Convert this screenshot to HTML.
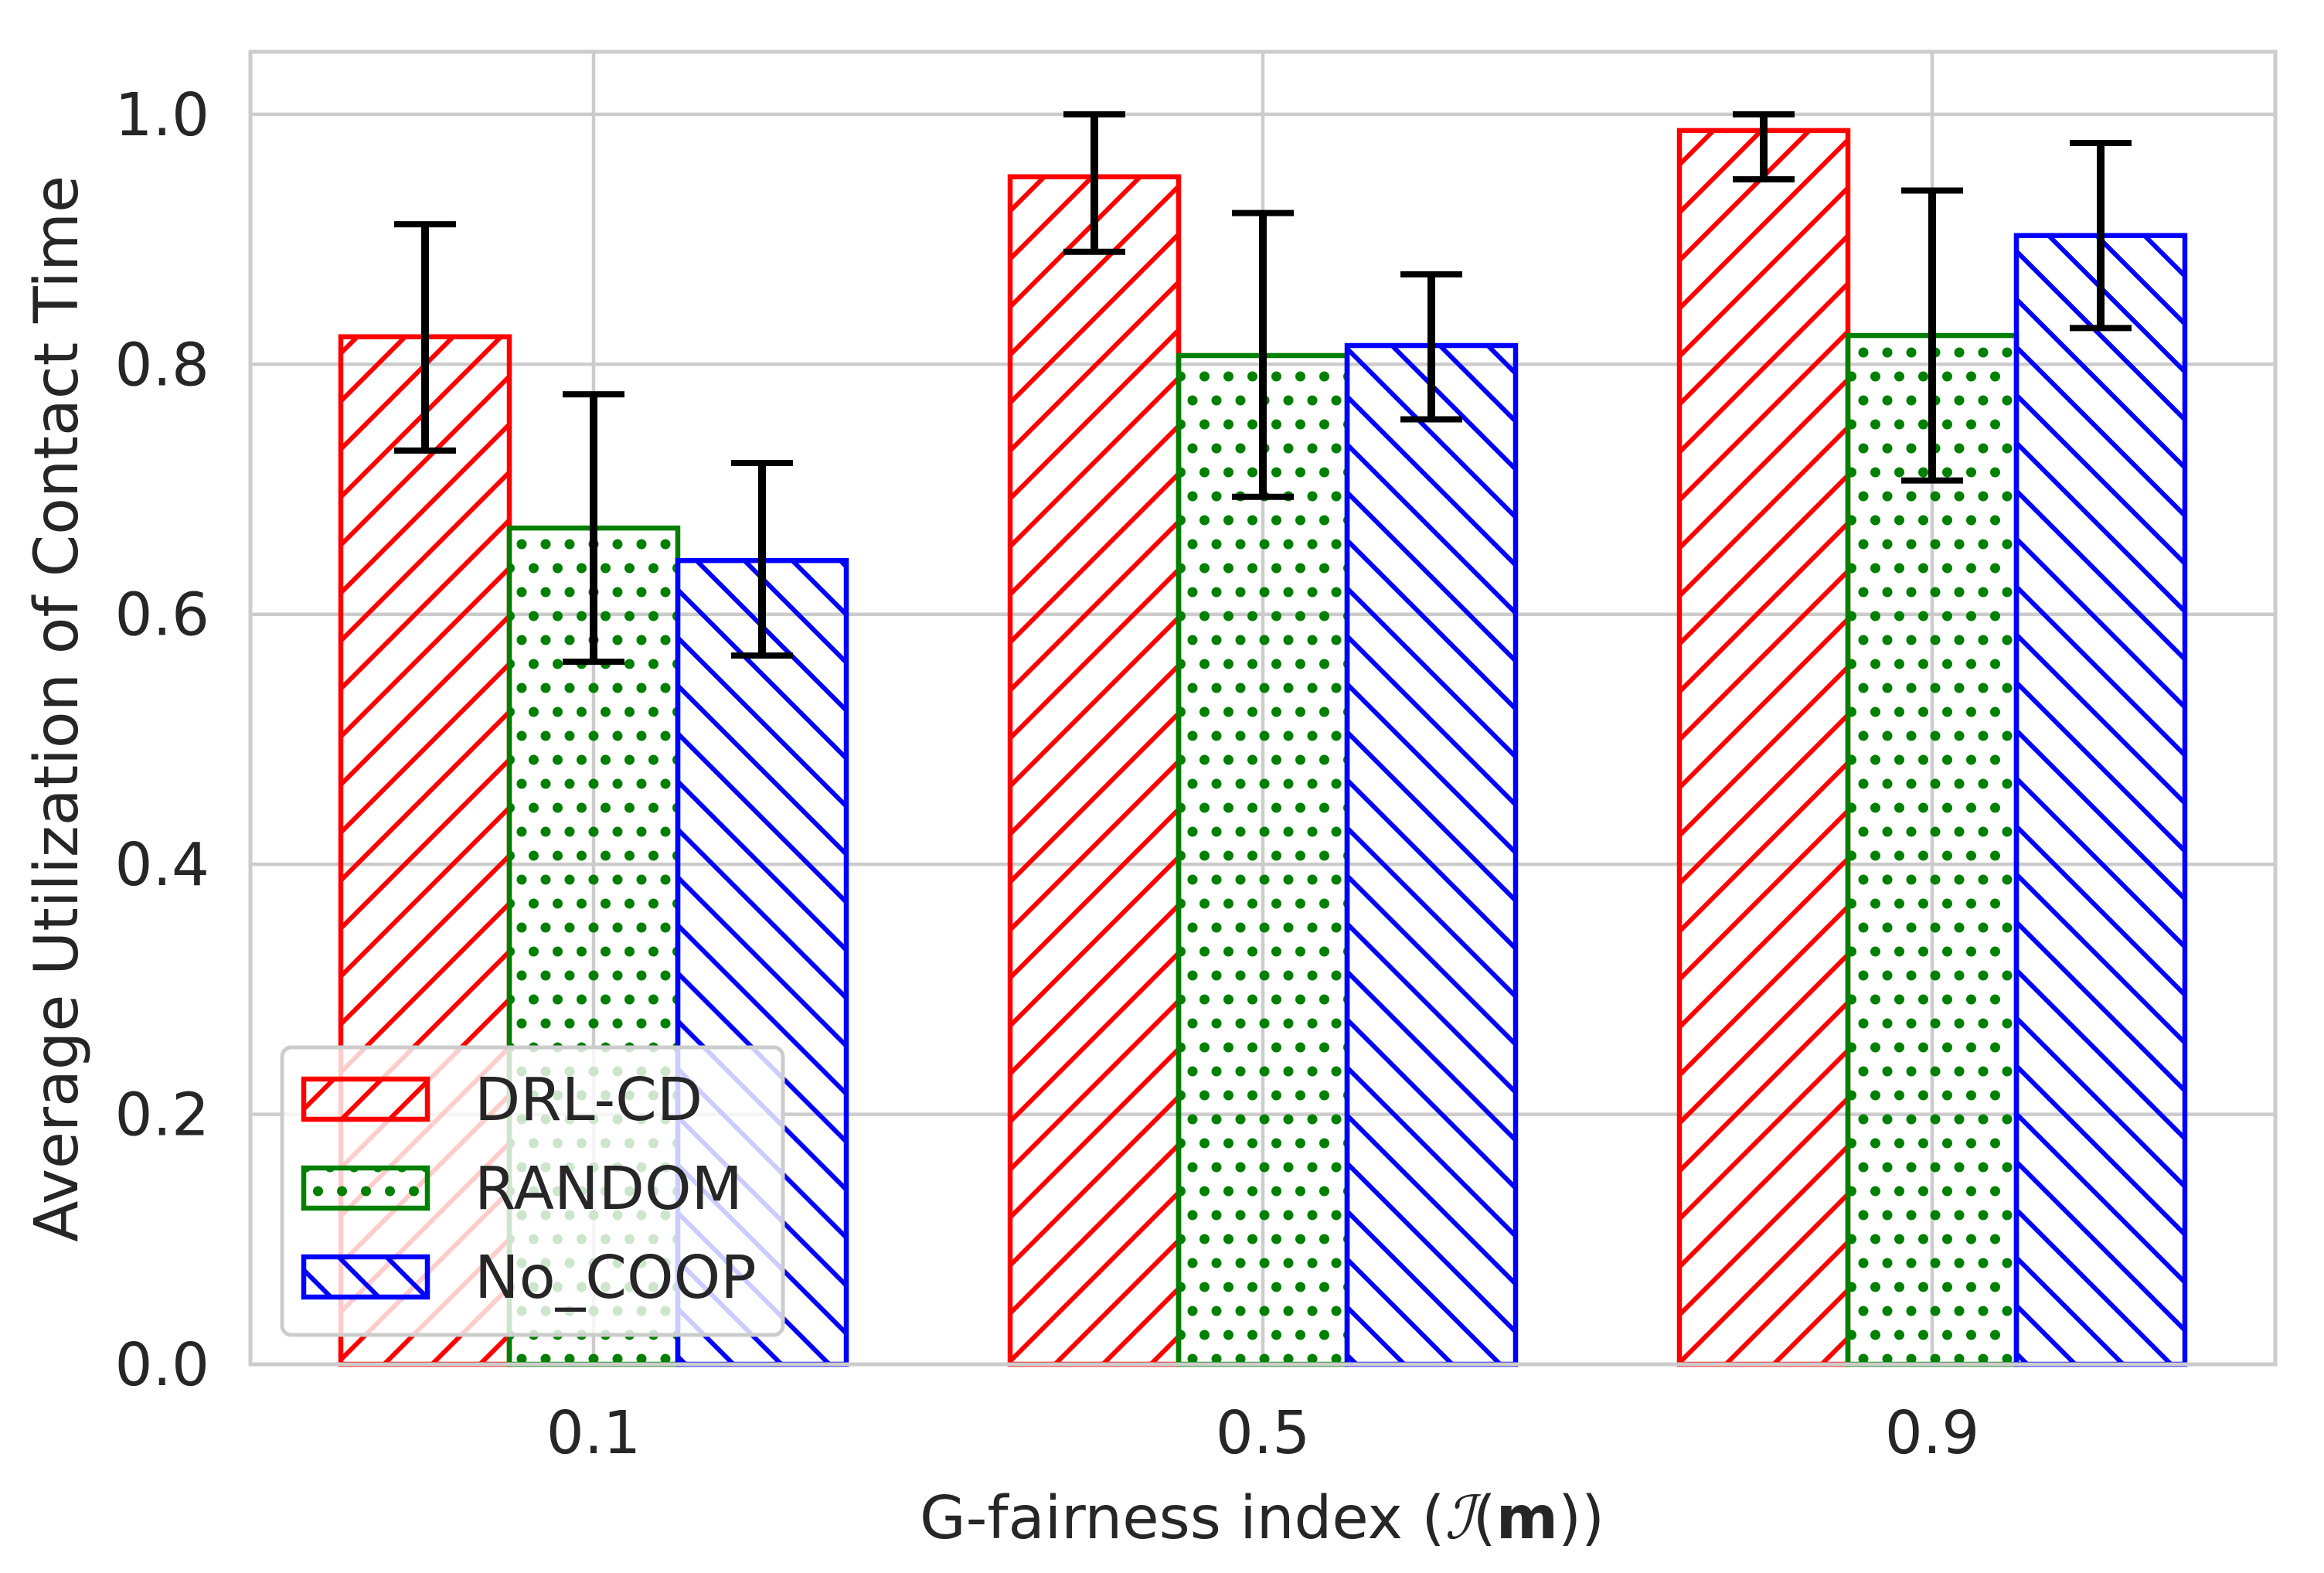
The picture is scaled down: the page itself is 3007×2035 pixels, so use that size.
<!DOCTYPE html>
<html><head><meta charset="utf-8"><style>
html,body{margin:0;padding:0;background:#fff;}
svg{display:block;font-family:"DejaVu Sans","Liberation Sans",sans-serif;}
</style></head><body>
<svg id="chart" width="3007" height="2035" viewBox="0 0 3007 2035" xmlns="http://www.w3.org/2000/svg">
<defs>
<pattern id="hatch-red" patternUnits="userSpaceOnUse" width="62" height="62" patternTransform="translate(30,0)">
<path d="M-10,72 L72,-10 M-10,10 L10,-10 M52,72 L72,52" stroke="#ff0000" stroke-width="6"/>
</pattern>
<pattern id="hatch-blue" patternUnits="userSpaceOnUse" width="62" height="62" patternTransform="translate(0,10)">
<path d="M-10,-10 L72,72 M-10,52 L10,72 M52,-10 L72,10" stroke="#0000ff" stroke-width="6"/>
</pattern>
<pattern id="hatch-green" patternUnits="userSpaceOnUse" width="31" height="62">
<circle cx="24" cy="22" r="6.5" fill="#008000"/>
<circle cx="8.5" cy="53" r="6.5" fill="#008000"/>
<circle cx="39.5" cy="53" r="6.5" fill="#008000"/>
</pattern>
</defs>
<rect x="0" y="0" width="3007" height="2035" fill="#fff"/>
<g id="grid"></g>
<g id="bars"></g>
<g id="errs"></g>
<rect x="324" y="67" width="2620" height="1698" fill="none" stroke="#cccccc" stroke-width="5"/>
<g id="ticks"></g>
<text x="1633" y="1990" font-size="77" fill="#262626" text-anchor="middle">G-fairness index (<tspan font-style="italic" font-family="DejaVu Serif, serif">ℐ</tspan>(<tspan font-weight="bold">m</tspan>))</text>
<text transform="translate(100,917) rotate(-90)" font-size="78" fill="#262626" text-anchor="middle">Average Utilization of Contact Time</text>
<g id="legend">
<rect x="365" y="1355" width="648" height="372" rx="12" fill="#fff" fill-opacity="0.8" stroke="#cccccc" stroke-width="5"/>
</g>
</svg>
<script>
const categories = ["0.1", "0.5", "0.9"];
const seriesNames = ["DRL-CD", "RANDOM", "No_COOP"];
const drlValues = [0.822, 0.950, 0.987];
const randomValues = [0.669, 0.807, 0.823];
const noCoopValues = [0.643, 0.815, 0.903];
const drlLow = [0.731, 0.890, 0.948];
const drlHigh = [0.912, 1.000, 1.000];
const randomLow = [0.562, 0.694, 0.707];
const randomHigh = [0.776, 0.921, 0.939];
const noCoopLow = [0.567, 0.756, 0.829];
const noCoopHigh = [0.721, 0.872, 0.977];
const yTicks = [0.0, 0.2, 0.4, 0.6, 0.8, 1.0];

const NS = "http://www.w3.org/2000/svg";
const plotL = 324, plotR = 2944, plotT = 67, plotB = 1765;
const yMin = 0, yMax = 1.050;
function yScale(v){ return plotB - (v - yMin) / (yMax - yMin) * (plotB - plotT); }
const groupStart = 768, groupStep = 866;
function xScale(i){ return groupStart + i * groupStep; }
const barW = 218;

function mk(tag, attrs, parent){
  const e = document.createElementNS(NS, tag);
  for (const k in attrs) e.setAttribute(k, attrs[k]);
  parent.appendChild(e);
  return e;
}
const grid = document.getElementById('grid');
const ticks = document.getElementById('ticks');
yTicks.forEach(t => {
  const y = yScale(t);
  const gl = mk('line', {x1: plotL, x2: plotR, y1: y, y2: y, stroke: '#cccccc', 'stroke-width': 4.5}, grid);
  
  
  const tl = mk('text', {x: 271, y: y + 27, 'font-size': 77, fill: '#262626', 'text-anchor': 'end'}, ticks);
  tl.textContent = t.toFixed(1);
  
  
});
categories.forEach((c, i) => {
  const x = xScale(i);
  const gl = mk('line', {x1: x, x2: x, y1: plotT, y2: plotB, stroke: '#cccccc', 'stroke-width': 4.5}, grid);
  
  
  const tl = mk('text', {x: x, y: 1880, 'font-size': 77, fill: '#262626', 'text-anchor': 'middle'}, ticks);
  tl.textContent = c;
  
  
});

const series = [
  {vals: drlValues, lo: drlLow, hi: drlHigh, fill: 'url(#hatch-red)', stroke: '#ff0000', key: 'drl-cd'},
  {vals: randomValues, lo: randomLow, hi: randomHigh, fill: 'url(#hatch-green)', stroke: '#008000', key: 'random'},
  {vals: noCoopValues, lo: noCoopLow, hi: noCoopHigh, fill: 'url(#hatch-blue)', stroke: '#0000ff', key: 'no-coop'}
];
const bars = document.getElementById('bars');
const errs = document.getElementById('errs');
series.forEach((s, si) => {
  s.vals.forEach((v, i) => {
    const cx = xScale(i) + (si - 1) * barW;
    const y0 = yScale(v), yb = yScale(0);
    const r = mk('rect', {x: cx - barW/2, y: y0, width: barW, height: yb - y0, fill: s.fill, stroke: s.stroke, 'stroke-width': 6.5}, bars);
    
    
    const ylo = yScale(s.lo[i]), yhi = yScale(s.hi[i]);
    const g = mk('g', {stroke: '#000'}, errs);
    
    
    mk('line', {x1: cx, x2: cx, y1: ylo, y2: yhi, 'stroke-width': 10}, g);
    mk('line', {x1: cx - 40, x2: cx + 40, y1: ylo, y2: ylo, 'stroke-width': 8}, g);
    mk('line', {x1: cx - 40, x2: cx + 40, y1: yhi, y2: yhi, 'stroke-width': 8}, g);
  });
});

const legend = document.getElementById('legend');
const legendY = [1422, 1537, 1652];
series.forEach((s, si) => {
  const cy = legendY[si];
  const p = mk('rect', {x: 393, y: cy - 26, width: 160, height: 52, fill: s.fill, stroke: s.stroke, 'stroke-width': 6.5}, legend);
  
  
  const t = mk('text', {x: 614, y: cy + 27, 'font-size': 77, fill: '#262626'}, legend);
  t.textContent = seriesNames[si];
  
  
});
</script>
</body></html>
